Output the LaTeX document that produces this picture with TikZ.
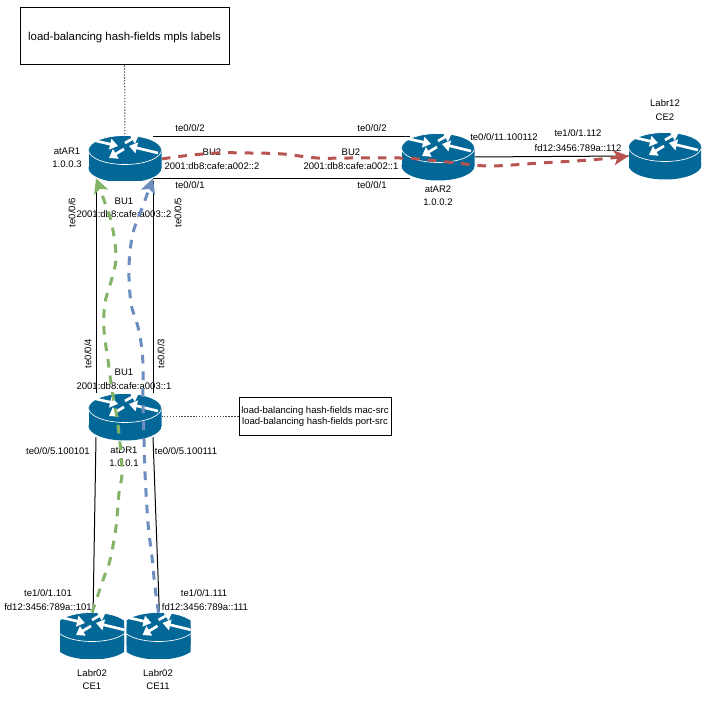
\documentclass[tikz,border=0pt]{standalone}
\usepackage{fontspec}
\setmainfont{Liberation Sans}
\usepackage{tikz}
\usetikzlibrary{arrows.meta,positioning,calc}
\definecolor{rtrblue}{HTML}{036897}
\definecolor{flowred}{HTML}{B85450}
\definecolor{flowgreen}{HTML}{82B366}
\definecolor{flowblue}{HTML}{6C8EBF}
\pgfdeclarelayer{background}
\pgfsetlayers{background,main}
\newcommand{\routericon}{%
  \fill[rtrblue] (0,9) ellipse (36.5 and 14.5);
  \fill[rtrblue] (-36.5,-9) rectangle (36.5,9);
  \filldraw[rtrblue, draw=white, line width=.5pt] (0,-9) ellipse (36.5 and 14.5);
  \draw[rtrarrow] (-33,-19) -- (-7,-13);
  \draw[rtrarrow] (0,-16) -- (14,-24);
  \draw[rtrarrow] (33,-6) -- (4,-13);
  \draw[rtrarrow] (-1,-10) -- (-16,-1);
}
\tikzset{
  rtrarrow/.style={white, line width=2pt, -{Triangle[length=6pt,width=8pt]}},
  rtr/.style 2 args={rectangle, inner sep=0pt, minimum width=#1*.75pt, minimum height=#2*.75pt,
    path picture={\begin{scope}[shift={(path picture bounding box.center)}, xscale=#1/73, yscale=#2/47]\routericon\end{scope}}},
  lbl/.style={inner sep=0pt, yshift=-.4pt, font=\fontsize{7.15}{10}\selectfont, align=center},
  notebox/.style={draw, rectangle, inner sep=0pt, line width=.75pt, align=center},
  link/.style={line width=.75pt},
  noteline/.style={line width=.75pt, dash pattern=on 1pt off 1.2pt, black!70},
  flow/.style={line width=2.25pt, dash pattern=on 6.5pt off 6pt, -{Stealth[length=11pt,width=11pt,inset=2.5pt]}},
}

\begin{document}
\begin{tikzpicture}[x=.75pt, y=-.75pt]
\useasboundingbox (0,0) rectangle (726,702);
\node[rtr={73}{44}] (ar1) at (125,159) {};
\node[rtr={73}{47}] (ar2) at (438,157) {};
\node[rtr={72}{47}] (ce2) at (665,156) {};
\node[rtr={73}{48}] (dr1) at (125,417) {};
\node[rtr={64}{46}] (ce1) at (92,636) {};
\node[rtr={64}{46}] (ce11) at (158.5,636) {};
\node[notebox, minimum width=156.75pt, minimum height=42.75pt, text depth=0pt, font=\fontsize{8.55}{10}\selectfont] (note1) at (124.5,36.5) {load-balancing hash-fields mpls labels};
\node[notebox, minimum width=114pt, minimum height=28.5pt, font=\fontsize{7.15}{8.3}\selectfont] (note2) at (315,417) {load-balancing hash-fields mac-src\\load-balancing hash-fields port-src};
% physical links go under the routers
\begin{pgfonlayer}{background}
\draw[link] ([shift={(28,0)}]ar1.north) -- ([shift={(-28,0)}]ar1.north -| ar2);
\draw[link] ([shift={(28,-3)}]ar1.south) -- ([shift={(-28,-3)}]ar1.south -| ar2);
\draw[link] ([shift={(-29,0)}]ar1.south) -- ([shift={(-29,0)}]dr1.north);
\draw[link] ([shift={(28,0)}]ar1.south) -- ([shift={(28,0)}]dr1.north);
\draw[link] ([shift={(-29,-4)}]dr1.south) -- ([shift={(1,4)}]ce1.north);
\draw[link] ([shift={(28,-4)}]dr1.south) -- ([shift={(1,4)}]ce11.north);
\draw[link] (ar2.east) -- (ce2.west);
\draw[noteline] (note1) -- (ar1.north);
\draw[noteline] (note2) -- (dr1.east);
\end{pgfonlayer}
% labels
\node[lbl] (l1) at (190,128) {te0/0/2};
\node[lbl] (l2) at (372,128) {te0/0/2};
\node[lbl] (l3) at (212,151.5) {BU2};
\node[lbl] (l4) at (351,151.5) {BU2};
\node[lbl] (l5) at (212,166) {2001:db8:cafe:a002::2};
\node[lbl] (l6) at (351,166) {2001:db8:cafe:a002::1};
\node[lbl] (l7) at (190,185) {te0/0/1};
\node[lbl] (l8) at (372,185) {te0/0/1};
\node[lbl] (l9) at (67,157.5) {atAR1\\1.0.0.3};
\node[lbl] (l10) at (438,195) {atAR2\\1.0.0.2};
\node[lbl] (l11) at (504,137) {te0/0/11.100112};
\node[lbl] (l12) at (578,133) {te1/0/1.112};
\node[lbl] (l13) at (578,148) {fd12:3456:789a::112};
\node[lbl] (l14) at (665,109.5) {Labr12\\CE2};
\node[lbl] (l15) at (124,201) {BU1};
\node[lbl] (l16) at (124,214) {2001:db8:cafe:a003::2};
\node[lbl, rotate=90] (l17) at (72,212) {te0/0/6};
\node[lbl, rotate=90] (l18) at (178,212) {te0/0/5};
\node[lbl, rotate=90] (l19) at (88,353) {te0/0/4};
\node[lbl, rotate=90] (l20) at (161,353) {te0/0/3};
\node[lbl] (l21) at (124,372) {BU1};
\node[lbl] (l22) at (124,386) {2001:db8:cafe:a003::1};
\node[lbl] (l23) at (124,456) {atDR1\\1.0.0.1};
\node[lbl] (l24) at (58,451) {te0/0/5.100101};
\node[lbl] (l25) at (186,451) {te0/0/5.100111};
\node[lbl] (l26) at (48,593) {te1/0/1.101};
\node[lbl] (l27) at (48,607) {fd12:3456:789a::101};
\node[lbl] (l28) at (204,593) {te1/0/1.111};
\node[lbl] (l29) at (205,607) {fd12:3456:789a::111};
\node[lbl] (l30) at (92,679) {Labr02\\CE1};
\node[lbl] (l31) at (158,679) {Labr02\\CE11};
% traffic paths
\coordinate (gtip) at ([shift={(-29,-3)}]ar1.south);
\coordinate (btip) at ([shift={(28,-3)}]ar1.south);
\draw[flow, flowred] plot[smooth, tension=.6] coordinates {(ar1.east) (183,156) (217,153) (250,153) (283,154) (317,158) (350,158) (400,158) (418,159) (457,163) (490,166) (540,163) (590,160) (ce2.west)};
\draw[flow, flowgreen] plot[smooth, tension=.6] coordinates {(ce1.north) (103,580) (110,560) (116,527) (119,493) (122,470) (118,425) (112,390) (108,360) (104,330) (105,303) (112,278) (116,257) (112,225) (105,203) (gtip)};
\draw[flow, flowblue] plot[smooth, tension=.6] coordinates {(ce11.north) (155,587) (152,557) (148,523) (145,473) (144,440) (143,400) (143,370) (142,350) (138,327) (131,303) (129,267) (133,233) (144,203) (btip)};
\end{tikzpicture}
\end{document}
